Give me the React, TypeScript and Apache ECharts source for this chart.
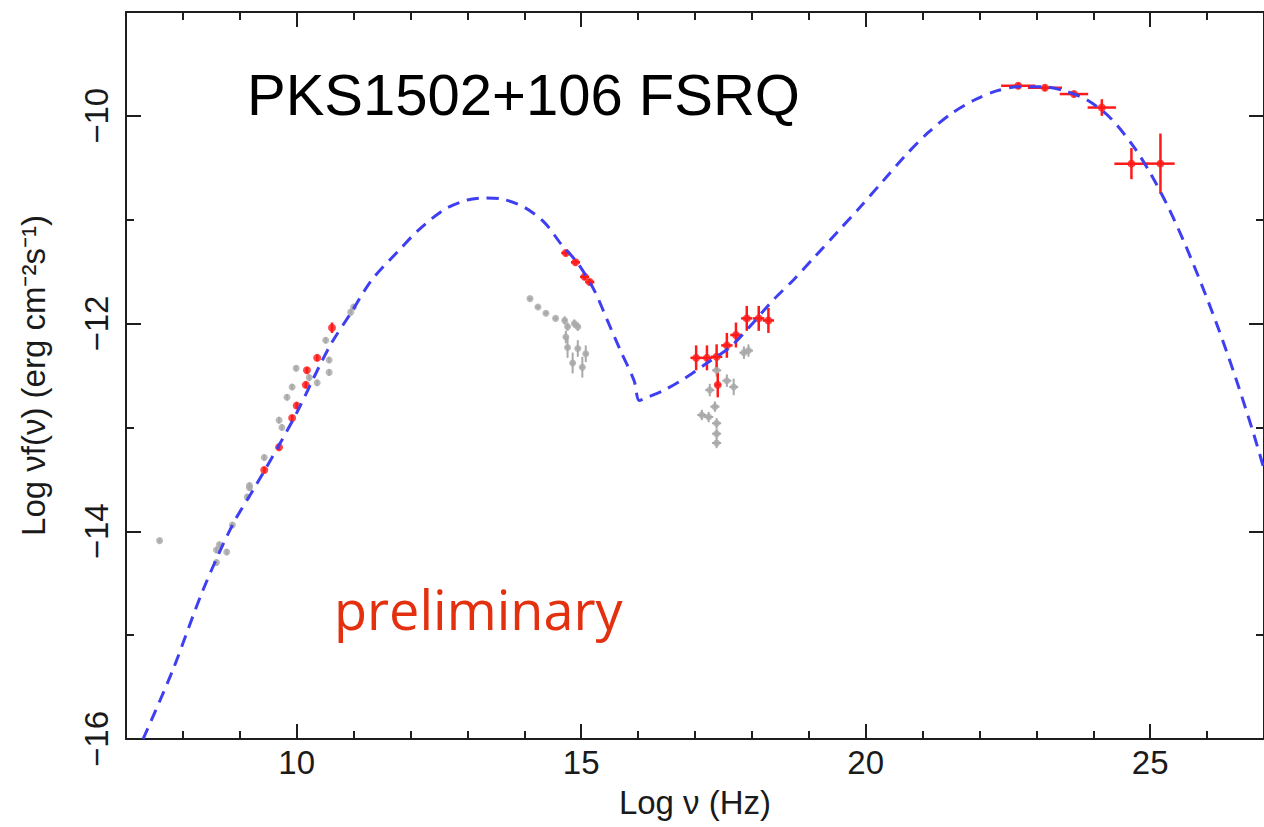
import React, { useEffect, useRef } from "react";
import * as echarts from "echarts";

// Model curve (dashed blue)
const modelX = [7.30, 7.82, 8.35, 8.87, 9.26, 9.69, 10.0, 10.39, 10.62, 10.95, 11.32, 11.84, 12.14, 12.6, 13.0, 13.3, 13.6, 14.0, 14.36, 14.64, 14.94, 15.23, 15.46, 15.69, 15.93, 16.02, 16.16, 16.46, 16.81, 17.21, 17.61, 17.96, 18.38, 18.73, 19.1, 19.5, 19.9, 20.3, 20.7, 21.1, 21.5, 21.9, 22.3, 22.7, 23.1, 23.5, 23.9, 24.3, 24.7, 25.0, 25.3, 25.6, 25.9, 26.2, 26.5, 26.8, 27.0];
const modelY = [-16.0, -15.34, -14.57, -13.94, -13.58, -13.17, -12.86, -12.42, -12.18, -11.90, -11.58, -11.27, -11.10, -10.90, -10.81, -10.79, -10.80, -10.88, -11.03, -11.23, -11.42, -11.68, -11.97, -12.26, -12.55, -12.74, -12.71, -12.64, -12.53, -12.38, -12.23, -12.03, -11.77, -11.58, -11.36, -11.12, -10.88, -10.63, -10.38, -10.16, -9.98, -9.85, -9.76, -9.72, -9.72, -9.76, -9.85, -10.02, -10.29, -10.55, -10.86, -11.22, -11.62, -12.05, -12.52, -13.03, -13.4];

// Red (simultaneous) data points
const redX = [9.43, 9.69, 9.92, 10.0, 10.16, 10.18, 10.36, 10.62, 14.73, 14.90, 15.06, 15.15, 17.02, 17.21, 17.38, 17.40, 17.56, 17.72, 17.91, 18.12, 18.29, 22.68, 23.15, 23.66, 24.15, 24.67, 25.18];
const redY = [-13.41, -13.19, -12.91, -12.79, -12.59, -12.45, -12.33, -12.04, -11.32, -11.41, -11.55, -11.60, -12.33, -12.33, -12.32, -12.59, -12.21, -12.11, -11.95, -11.95, -11.97, -9.71, -9.73, -9.79, -9.92, -10.46, -10.46];
const redXErr = [0.02, 0.02, 0.02, 0.02, 0.02, 0.02, 0.02, 0.02, 0.08, 0.08, 0.08, 0.08, 0.1, 0.1, 0.1, 0.05, 0.1, 0.1, 0.1, 0.1, 0.1, 0.3, 0.3, 0.25, 0.25, 0.3, 0.25];
const redYErr = [0.03, 0.03, 0.03, 0.03, 0.03, 0.03, 0.03, 0.05, 0.03, 0.03, 0.03, 0.03, 0.12, 0.12, 0.12, 0.12, 0.12, 0.12, 0.12, 0.12, 0.12, 0.03, 0.03, 0.03, 0.08, 0.15, 0.29];

// Gray (archival) data points
const grayX = [7.59, 8.59, 8.59, 8.64, 8.77, 8.87, 9.13, 9.17, 9.17, 9.43, 9.69, 9.74, 9.83, 9.92, 9.99, 10.22, 10.36, 10.51, 10.57, 10.57, 10.95, 11.0, 14.10, 14.24, 14.38, 14.55, 14.71, 14.76, 14.88, 14.94, 14.73, 14.76, 14.94, 15.08, 14.85, 15.02, 17.38, 17.26, 17.56, 17.68, 17.86, 17.94, 17.12, 17.24, 17.35, 17.38, 17.38, 17.38];
const grayY = [-14.09, -14.18, -14.30, -14.13, -14.20, -13.94, -13.67, -13.58, -13.56, -13.29, -12.93, -13.0, -12.71, -12.61, -12.43, -12.52, -12.57, -12.16, -12.35, -12.47, -11.89, -11.84, -11.76, -11.84, -11.90, -11.95, -11.97, -12.03, -12.0, -12.03, -12.13, -12.23, -12.24, -12.29, -12.38, -12.42, -12.45, -12.64, -12.55, -12.61, -12.28, -12.26, -12.88, -12.90, -12.80, -12.96, -13.06, -13.15];
const grayXErr = [0.02, 0.02, 0.02, 0.02, 0.02, 0.02, 0.02, 0.02, 0.02, 0.02, 0.02, 0.02, 0.02, 0.02, 0.02, 0.02, 0.02, 0.02, 0.02, 0.02, 0.02, 0.02, 0.04, 0.04, 0.04, 0.04, 0.04, 0.04, 0.04, 0.04, 0.04, 0.04, 0.04, 0.04, 0.04, 0.04, 0.08, 0.08, 0.08, 0.08, 0.08, 0.08, 0.08, 0.08, 0.08, 0.08, 0.08, 0.08];
const grayYErr = [0.02, 0.03, 0.03, 0.03, 0.03, 0.03, 0.03, 0.03, 0.03, 0.03, 0.03, 0.03, 0.03, 0.03, 0.03, 0.03, 0.03, 0.03, 0.03, 0.03, 0.03, 0.03, 0.02, 0.02, 0.02, 0.02, 0.04, 0.04, 0.04, 0.04, 0.06, 0.1, 0.08, 0.08, 0.1, 0.1, 0.06, 0.06, 0.06, 0.08, 0.06, 0.06, 0.05, 0.05, 0.05, 0.05, 0.05, 0.05];

const X_MIN = 7;
const X_MAX = 27;
const Y_MIN = -16;
const Y_MAX = -9;

const X_TITLE = "Log \u03bd (Hz)";
const Y_TITLE = "Log \u03bdf(\u03bd) (erg cm\u207b\u00b2s\u207b\u00b9)";
const TITLE = "PKS1502+106 FSRQ";
const NOTE = "preliminary";

const FONT = '"Liberation Sans", Arial, Helvetica, sans-serif';
const AXIS_COLOR = "#1e1e1e";

function errorBarSeries(xs: number[], ys: number[], xe: number[], ye: number[], color: string, width: number) {
  return {
    type: "custom",
    xAxisIndex: 0,
    yAxisIndex: 0,
    clip: true,
    data: xs.map((x, i) => [x, ys[i], xe[i], ye[i]]),
    renderItem: (params: any, api: any) => {
      const x = api.value(0);
      const y = api.value(1);
      const dx = api.value(2);
      const dy = api.value(3);
      const a = api.coord([x - dx, y]);
      const b = api.coord([x + dx, y]);
      const c = api.coord([x, y - dy]);
      const d = api.coord([x, y + dy]);
      return {
        type: "group",
        children: [
          { type: "line", shape: { x1: a[0], y1: a[1], x2: b[0], y2: b[1] }, style: { stroke: color, lineWidth: width } },
          { type: "line", shape: { x1: c[0], y1: c[1], x2: d[0], y2: d[1] }, style: { stroke: color, lineWidth: width } },
        ],
      };
    },
  };
}

function axisCommon(showLabel: boolean) {
  return {
    axisLine: { show: true, onZero: false, lineStyle: { color: AXIS_COLOR, width: 2 } },
    axisTick: { show: true, inside: true, length: 15, lineStyle: { color: AXIS_COLOR, width: 2 } },
    minorTick: { show: true, length: 8, lineStyle: { color: AXIS_COLOR, width: 2 } },
    splitLine: { show: false },
    minorSplitLine: { show: false },
    axisLabel: { show: showLabel },
  };
}

export default function App() {
  const ref = useRef<HTMLDivElement>(null);
  useEffect(() => {
    if (!ref.current) return;
    const chart = echarts.init(ref.current, undefined, { renderer: "svg" });
    const fmt = (v: number) => String(v).replace("-", "\u2212");
    const xBase = {
      type: "value",
      min: X_MIN,
      max: X_MAX,
      splitNumber: 4,
      minInterval: 5,
      maxInterval: 5,
    };
    const yBase = {
      type: "value",
      min: Y_MIN,
      max: Y_MAX,
      splitNumber: 4,
      minInterval: 2,
      maxInterval: 2,
    };
    const option: any = {
      animation: false,
      backgroundColor: "#ffffff",
      grid: { left: 126, top: 12, width: 1143, height: 727, containLabel: false },
      xAxis: [
        {
          ...xBase,
          ...axisCommon(true),
          position: "bottom",
          minorTick: { show: true, splitNumber: 5, length: 8, lineStyle: { color: AXIS_COLOR, width: 2 } },
          axisLabel: {
            show: true,
            margin: 7,
            color: "#1a1a1a",
            fontSize: 33,
            fontFamily: FONT,
            showMinLabel: false,
            showMaxLabel: false,
            formatter: (v: number) => (v % 5 === 0 ? fmt(v) : ""),
          },
          name: X_TITLE,
          nameLocation: "middle",
          nameGap: 47,
          nameTextStyle: { fontSize: 33, fontFamily: FONT, color: "#1a1a1a" },
        },
        {
          ...xBase,
          ...axisCommon(false),
          position: "top",
          minorTick: { show: true, splitNumber: 5, length: 8, lineStyle: { color: AXIS_COLOR, width: 2 } },
        },
      ],
      yAxis: [
        {
          ...yBase,
          ...axisCommon(true),
          position: "left",
          minorTick: { show: true, splitNumber: 2, length: 8, lineStyle: { color: AXIS_COLOR, width: 2 } },
          axisLabel: {
            show: true,
            rotate: 90,
            margin: 13,
            color: "#1a1a1a",
            fontSize: 33,
            fontFamily: FONT,
            showMaxLabel: false,
            formatter: (v: number) => (v % 2 === 0 ? fmt(v) : ""),
          },
          name: Y_TITLE,
          nameLocation: "middle",
          nameRotate: 90,
          nameGap: 76,
          nameTextStyle: { fontSize: 33, fontFamily: FONT, color: "#1a1a1a" },
        },
        {
          ...yBase,
          ...axisCommon(false),
          position: "right",
          minorTick: { show: true, splitNumber: 2, length: 8, lineStyle: { color: AXIS_COLOR, width: 2 } },
        },
      ],
      series: [
        errorBarSeries(grayX, grayY, grayXErr, grayYErr, "#a9a9a9", 2),
        {
          type: "scatter",
          xAxisIndex: 0,
          yAxisIndex: 0,
          symbol: "circle",
          symbolSize: 7,
          itemStyle: { color: "#a9a9a9" },
          data: grayX.map((x, i) => [x, grayY[i]]),
        },
        errorBarSeries(redX, redY, redXErr, redYErr, "#ff1a1a", 2.5),
        {
          type: "scatter",
          xAxisIndex: 0,
          yAxisIndex: 0,
          symbol: "circle",
          symbolSize: 8,
          itemStyle: { color: "#ff1a1a" },
          data: redX.map((x, i) => [x, redY[i]]),
        },
        {
          type: "line",
          xAxisIndex: 0,
          yAxisIndex: 0,
          smooth: 0.3,
          showSymbol: false,
          symbol: "none",
          clip: true,
          lineStyle: { color: "#3f3ff2", width: 3, type: [12, 8] },
          data: modelX.map((x, i) => [x, modelY[i]]),
          z: 5,
        },
      ],
      graphic: [
        {
          type: "text",
          x: 247,
          y: 94,
          style: { text: TITLE, fontSize: 58, fontFamily: FONT, fill: "#000000", verticalAlign: "middle", align: "left" },
        },
        {
          type: "text",
          x: 334,
          y: 609,
          style: { text: NOTE, fontSize: 54, fontFamily: '"Open Sans", sans-serif', fill: "#e3300f", verticalAlign: "middle", align: "left" },
        },
      ],
    };
    chart.setOption(option);
    return () => chart.dispose();
  }, []);
  return <div ref={ref} style={{ position: "absolute", left: 0, top: 0, width: 1264, height: 827 }} />;
}
